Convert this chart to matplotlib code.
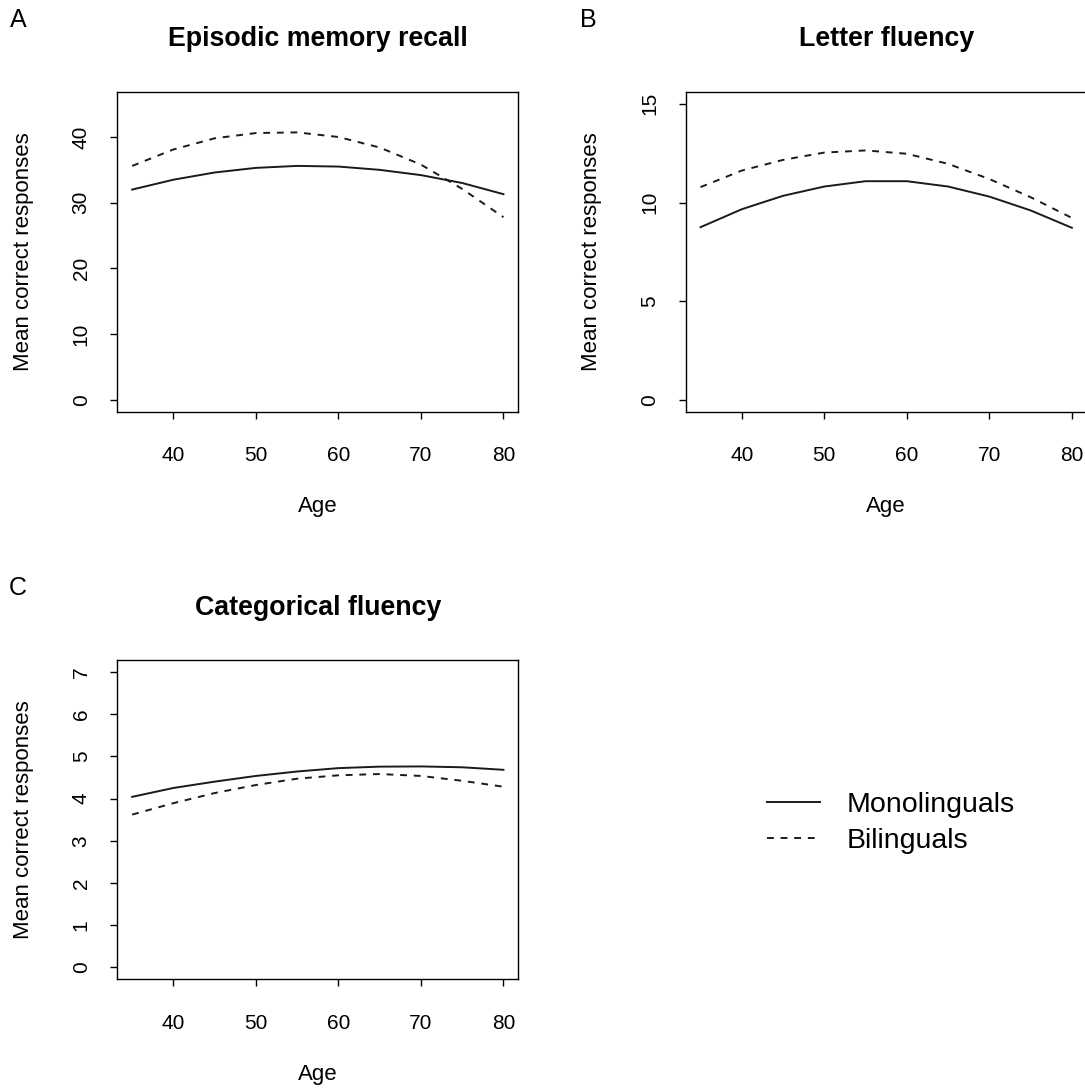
import matplotlib
matplotlib.use("Agg")
import matplotlib.pyplot as plt

plt.rcParams['font.family'] = ['Liberation Sans', 'DejaVu Sans']

ages = [35, 40, 45, 50, 55, 60, 65, 70, 75, 80]

episodic_mono = [32.0, 33.5, 34.6, 35.3, 35.6, 35.5, 35.0, 34.2, 33.0, 31.3]
episodic_bi = [35.6, 38.1, 39.8, 40.6, 40.7, 40.0, 38.4, 35.8, 32.1, 27.8]

letter_mono = [8.75, 9.66, 10.34, 10.81, 11.08, 11.08, 10.81, 10.30, 9.60, 8.72]
letter_bi = [10.78, 11.62, 12.16, 12.53, 12.64, 12.47, 11.96, 11.19, 10.27, 9.22]

categ_mono = [4.04, 4.25, 4.40, 4.535, 4.64, 4.72, 4.755, 4.76, 4.74, 4.68]
categ_bi = [3.62, 3.89, 4.13, 4.32, 4.47, 4.55, 4.58, 4.535, 4.42, 4.28]

titles = ["Episodic memory recall", "Letter fluency", "Categorical fluency"]
panel_letters = ["A", "B", "C"]
yticks_list = [[0, 10, 20, 30, 40], [0, 5, 10, 15], [0, 1, 2, 3, 4, 5, 6, 7]]
ylims = [(0, 45), (0, 15), (0, 7)]
xticks = [40, 50, 60, 70, 80]
series_labels = ["Monolinguals", "Bilinguals"]

W, H = 1085, 1088
fig = plt.figure(figsize=(W / 100, H / 100), dpi=100)

# axes boxes in pixels: left, top, width, height
boxes = [(117.3, 92.3, 401, 319.4), (685.7, 92.0, 401, 319.7), (117.3, 660.0, 401, 319.3)]
title_baselines = [46, 46, 615]
letter_pos = [(18, 20), (588, 20), (18, 588)]
data = [(episodic_mono, episodic_bi), (letter_mono, letter_bi), (categ_mono, categ_bi)]

line_col = '#1a1a1a'
dash = (0, (3.5, 3.5))
handles = None
for i in range(3):
    l, t, w, h = boxes[i]
    ax = fig.add_axes([l / W, 1 - (t + h) / H, w / W, h / H])
    mono, bi = data[i]
    h1, = ax.plot(ages, mono, color=line_col, lw=1.4, linestyle='-')
    h2, = ax.plot(ages, bi, color=line_col, lw=1.4, linestyle=dash)
    handles = [h1, h2]
    lo, hi = ylims[i]
    ext = 0.04 * (hi - lo)
    ax.set_ylim(lo - ext, hi + ext)
    ax.set_xlim(35 - 1.8, 80 + 1.8)
    ax.set_xticks(xticks)
    ax.set_yticks(yticks_list[i])
    ax.set_xticklabels([str(v) for v in xticks], fontsize=15)
    ax.set_yticklabels([str(v) for v in yticks_list[i]], fontsize=15,
                       rotation=90, va='center', ha='center')
    ax.tick_params(axis='x', length=5, width=1.0, pad=20, direction='out')
    ax.tick_params(axis='y', length=5, width=1.0, pad=21, direction='out')
    for s in ax.spines.values():
        s.set_linewidth(1.0)
        s.set_color('black')
    ax.set_xlabel("Age", fontsize=16, va='center')
    ax.set_ylabel("Mean correct responses", fontsize=16, va='center')
    ax.xaxis.set_label_coords(0.5, -95 / h)
    ax.yaxis.set_label_coords(-94 / w, 0.5)
    fig.text((l + w / 2) / W, 1 - title_baselines[i] / H, titles[i],
             fontsize=19.3, fontweight='bold', ha='center', va='baseline')
    lx, ly = letter_pos[i]
    fig.text(lx / W, 1 - ly / H, panel_letters[i], fontsize=18,
             ha='center', va='center')

fig.legend(handles, series_labels, loc='upper left',
           bbox_to_anchor=(766.7 / W, 1 - 792 / H), frameon=False,
           fontsize=20.5, handlelength=1.87, handletextpad=0.94,
           labelspacing=0.34, borderpad=0, borderaxespad=0)

fig.savefig("out.png", dpi=100)
